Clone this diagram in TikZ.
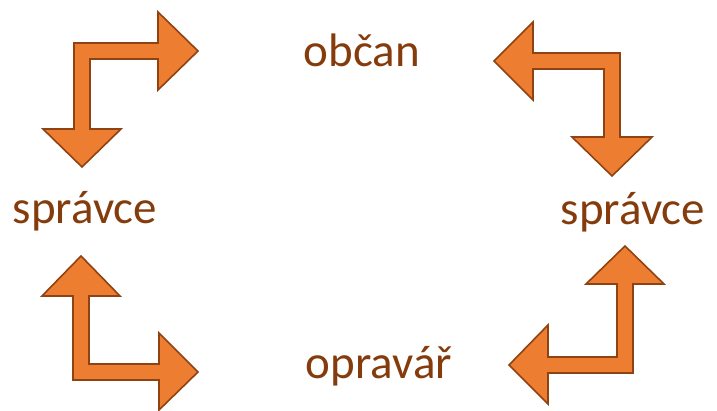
\documentclass[tikz,border=0pt]{standalone}
\usepackage{fontspec}
\setmainfont{Carlito}
\definecolor{txtbrown}{HTML}{843C0C}
\definecolor{arrfill}{HTML}{ED7D31}
\definecolor{arrline}{HTML}{8F4312}
\begin{document}
\begin{tikzpicture}[x=1pt,y=-1pt,
  bent/.style={fill=arrfill,draw=arrline,line width=1.6pt,line join=miter},
  lbl/.style={text=txtbrown,font=\fontsize{47}{56}\selectfont,anchor=base,inner sep=0pt}]
\useasboundingbox (0,0) rectangle (717,411);
% top-left arrow
\draw[bent] (82,167) -- (121,129) -- (90,129) -- (90,59) -- (158,59) -- (158,90) -- (198,51) -- (158,12) -- (158,43) -- (74,43) -- (74,129) -- (43,129) -- cycle;
% top-right arrow
\draw[bent] (494,61) -- (533,22) -- (533,53) -- (620,53) -- (620,137) -- (652,137) -- (612,176) -- (572,137) -- (604,137) -- (604,69) -- (533,69) -- (533,100) -- cycle;
% bottom-left arrow
\draw[bent] (81,256) -- (120,296) -- (89,296) -- (89,364) -- (159,364) -- (159,333) -- (198,372) -- (159,410) -- (159,380) -- (73,380) -- (73,296) -- (42,296) -- cycle;
% bottom-right arrow
\draw[bent] (625,246) -- (664,284) -- (633,284) -- (633,373) -- (548,373) -- (548,404) -- (509,365) -- (548,325) -- (548,357) -- (617,357) -- (617,284) -- (586,284) -- cycle;
\node[lbl] (obcan) at (362,67) {občan};
\node[lbl] (spravceL) at (85,224) {správce};
\node[lbl] (spravceR) at (633,225) {správce};
\node[lbl] (opravar) at (379,378) {opravář};
\end{tikzpicture}
\end{document}
